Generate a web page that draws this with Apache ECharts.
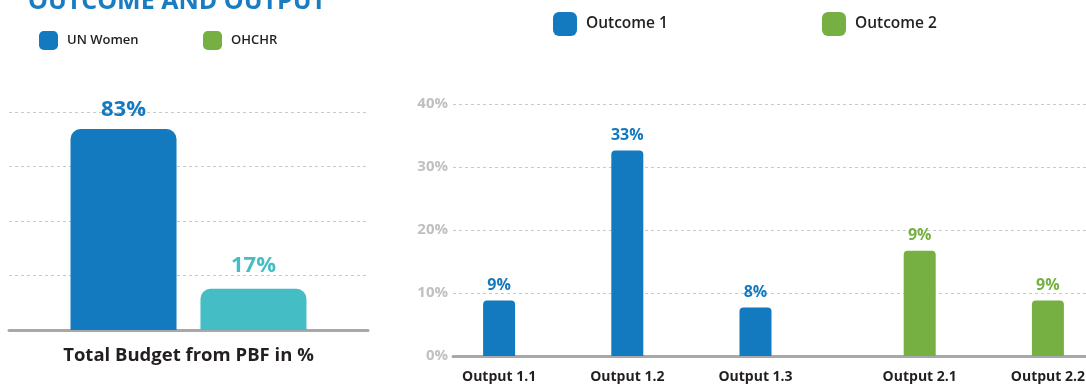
<!DOCTYPE html>
<html>
<head>
<meta charset="utf-8">
<script src="https://cdn.jsdelivr.net/npm/echarts@6/dist/echarts.min.js"></script>
<style>html,body{margin:0;padding:0;background:#fff}#c{width:1086px;height:385px}</style>
</head>
<body>
<div id="c"></div>
<script>
// Left chart: total budget share by agency
const budgetCategory = ['Total Budget from PBF in %'];
const unWomenBudget = [83];
const ohchrBudget = [17];

// Right chart: share by output
const outputCategories = ['Output 1.1', 'Output 1.2', 'Output 1.3', 'Output 2.1', 'Output 2.2'];
const outcome1Values = [8.8, 32.6, 7.7, '-', '-'];
const outcome2Values = ['-', '-', '-', 16.7, 8.8];
const outputValueLabels = ['9%', '33%', '8%', '9%', '9%'];
const yTickValues = [0, 10, 20, 30, 40];

const BLUE = '#137abf', GREEN = '#77b042', TEAL = '#45bdc5', AXIS = '#a8a8aa';
const FONT = 'Open Sans';

const chart = echarts.init(document.getElementById('c'));
function legend(name, left, top, size, fontSize, color) {
  const d = color ? { name: name, itemStyle: { color: color } } : name;
  return {
    data: [d], left: left, top: top, padding: 0, itemWidth: size, itemHeight: size,
    icon: 'roundRect', selectedMode: false,
    textStyle: { fontFamily: FONT, fontWeight: 600, fontSize: fontSize, color: '#231f20', padding: [0, 0, 0, 4] }
  };
}
chart.setOption({
  animation: false,
  graphic: [{
    type: 'text', x: 28, y: -11,
    style: { text: 'OUTCOME AND OUTPUT', fontFamily: FONT, fontWeight: 'bold', fontSize: 25, fill: '#1a7dc1' }
  }],
  legend: [
    legend('UN Women', 39, 31, 19, 13),
    legend('OHCHR', 203, 31, 19, 13, GREEN),
    legend('Outcome 1', 553, 12, 24, 15.5),
    legend('Outcome 2', 822, 12, 24, 15.5)
  ],
  grid: [
    { left: 9, right: 718, top: 112, bottom: 55, outerBoundsMode: 'none' },
    { left: 453, right: -8, top: 104, bottom: 29, outerBoundsMode: 'none' }
  ],
  xAxis: [
    {
      gridIndex: 0, type: 'category', data: budgetCategory,
      axisLine: { lineStyle: { color: AXIS, width: 3 } }, axisTick: { show: false },
      axisLabel: { margin: 16, fontFamily: FONT, fontWeight: 'bold', fontSize: 18.5, color: '#231f20' }
    },
    {
      gridIndex: 1, type: 'category', data: outputCategories,
      axisLine: { lineStyle: { color: AXIS, width: 3 } }, axisTick: { show: false },
      axisLabel: {
        margin: 14,
        formatter: function (v, i) { return i < 3 ? '{a|' + v + '}' : '{b|' + v + '}'; },
        rich: {
          a: { fontFamily: FONT, fontWeight: 'bold', fontSize: 14, color: '#231f20', padding: [0, 36, 0, 0] },
          b: { fontFamily: FONT, fontWeight: 'bold', fontSize: 14, color: '#231f20', padding: [0, 0, 0, 36] }
        }
      }
    }
  ],
  yAxis: [
    {
      gridIndex: 0, type: 'value', min: 0, max: 90, interval: 22.5,
      axisLabel: { show: false }, axisLine: { show: false }, axisTick: { show: false },
      splitLine: { lineStyle: { type: [3, 3], color: '#c8c8c8' } }
    },
    {
      gridIndex: 1, type: 'value', min: yTickValues[0], max: yTickValues[yTickValues.length - 1], interval: 10,
      axisLine: { show: false }, axisTick: { show: false },
      axisLabel: { margin: 5, formatter: '{value}%', fontFamily: FONT, fontWeight: 'bold', fontSize: 15, color: '#c0c0c0' },
      splitLine: { lineStyle: { type: [3, 3], color: '#c8c8c8' } }
    }
  ],
  series: [
    {
      name: 'UN Women', type: 'bar', xAxisIndex: 0, yAxisIndex: 0, data: unWomenBudget,
      barWidth: 106, barGap: '22.6%',
      itemStyle: { color: BLUE, borderRadius: [10, 10, 0, 0] },
      label: { show: true, position: 'top', distance: 8, formatter: '{c}%', fontFamily: FONT, fontWeight: 'bold', fontSize: 22, color: BLUE }
    },
    {
      name: 'OHCHR', type: 'bar', xAxisIndex: 0, yAxisIndex: 0, data: ohchrBudget,
      barWidth: 106, barGap: '22.6%',
      itemStyle: { color: TEAL, borderRadius: [10, 10, 0, 0] },
      label: { show: true, position: 'top', distance: 12, formatter: '{c}%', fontFamily: FONT, fontWeight: 'bold', fontSize: 22, color: TEAL }
    },
    {
      name: 'Outcome 1', type: 'bar', xAxisIndex: 1, yAxisIndex: 1, data: outcome1Values,
      barWidth: 32, barGap: '12.5%',
      itemStyle: { color: BLUE, borderRadius: [4, 4, 0, 0] },
      label: { show: true, position: 'top', distance: 7, formatter: function (p) { return outputValueLabels[p.dataIndex]; },
        fontFamily: FONT, fontWeight: 'bold', fontSize: 16, color: BLUE }
    },
    {
      name: 'Outcome 2', type: 'bar', xAxisIndex: 1, yAxisIndex: 1, data: outcome2Values,
      barWidth: 32, barGap: '12.5%',
      itemStyle: { color: GREEN, borderRadius: [4, 4, 0, 0] },
      label: { show: true, position: 'top', distance: 7, formatter: function (p) { return outputValueLabels[p.dataIndex]; },
        fontFamily: FONT, fontWeight: 'bold', fontSize: 16, color: GREEN }
    }
  ]
});
</script>
</body>
</html>
